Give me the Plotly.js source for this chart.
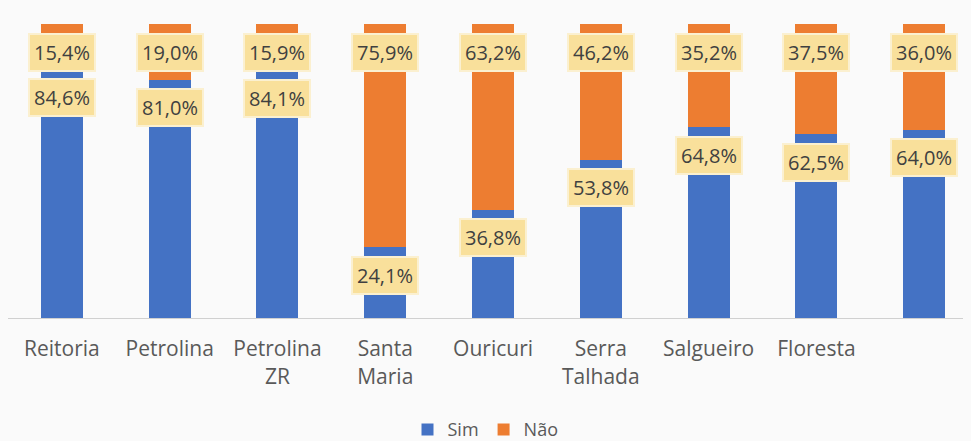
<!DOCTYPE html>
<html>
<head>
<meta charset="utf-8">
<script src="https://cdn.plot.ly/plotly-3.0.1.min.js"></script>
<style>html,body{margin:0;padding:0;background:#fafafa;}</style>
</head>
<body>
<div id="chart" style="width:971px;height:441px;"></div>
<script>
const categories = ["Reitoria", "Petrolina", "Petrolina<br>ZR", "Santa<br>Maria", "Ouricuri", "Serra<br>Talhada", "Salgueiro", "Floresta", ""];
const simValues = [84.6, 81.0, 84.1, 24.1, 36.8, 53.8, 64.8, 62.5, 64.0];
const naoValues = [15.4, 19.0, 15.9, 75.9, 63.2, 46.2, 35.2, 37.5, 36.0];
const seriesNames = ["Sim", "Não"];
const colors = ["#4472c4", "#ed7d31"];

const xIdx = categories.map((_, i) => i);
const fmt = v => v.toFixed(1).replace('.', ',') + '%';

const traces = [
  {type: 'bar', name: seriesNames[0], x: xIdx, y: simValues, marker: {color: colors[0]}, hoverinfo: 'none'},
  {type: 'bar', name: seriesNames[1], x: xIdx, y: naoValues, marker: {color: colors[1]}, hoverinfo: 'none'}
];

const labelStyle = {
  showarrow: false, xref: 'x', yref: 'y', yanchor: 'middle', yshift: -28,
  font: {family: 'Open Sans, Noto Sans, sans-serif', size: 20, color: '#404040'},
  bgcolor: '#f9e09b', bordercolor: '#fbf0d0', borderwidth: 2, borderpad: 4
};
const annotations = [];
xIdx.forEach(i => {
  annotations.push(Object.assign({}, labelStyle, {x: i, y: simValues[i] + naoValues[i], text: fmt(naoValues[i])}));
  annotations.push(Object.assign({}, labelStyle, {x: i, y: simValues[i], text: fmt(simValues[i])}));
});

const layout = {
  width: 971, height: 441,
  margin: {l: 8, r: 8, t: 24, b: 123, autoexpand: false},
  paper_bgcolor: '#fafafa', plot_bgcolor: '#fafafa',
  barmode: 'stack', bargap: 0.61,
  font: {family: 'Open Sans, Noto Sans, sans-serif', color: '#595959'},
  xaxis: {
    range: [-0.5, 8.36], tickmode: 'array', tickvals: xIdx, ticktext: categories,
    showline: true, linecolor: '#d0d0d0', linewidth: 1, showgrid: false, zeroline: false,
    ticks: 'outside', ticklen: 12, tickcolor: 'rgba(0,0,0,0)', automargin: false,
    tickfont: {size: 21, color: '#595959'}, fixedrange: true
  },
  yaxis: {range: [0, 100], visible: false, fixedrange: true},
  showlegend: true,
  legend: {
    orientation: 'h', x: 0.5, xanchor: 'center', y: -0.38, yanchor: 'middle',
    traceorder: 'normal',
    font: {size: 18, color: '#595959'}, bgcolor: 'rgba(0,0,0,0)', itemwidth: 30
  },
  annotations: annotations
};

Plotly.newPlot('chart', traces, layout, {displayModeBar: false, staticPlot: true});
</script>
</body>
</html>
